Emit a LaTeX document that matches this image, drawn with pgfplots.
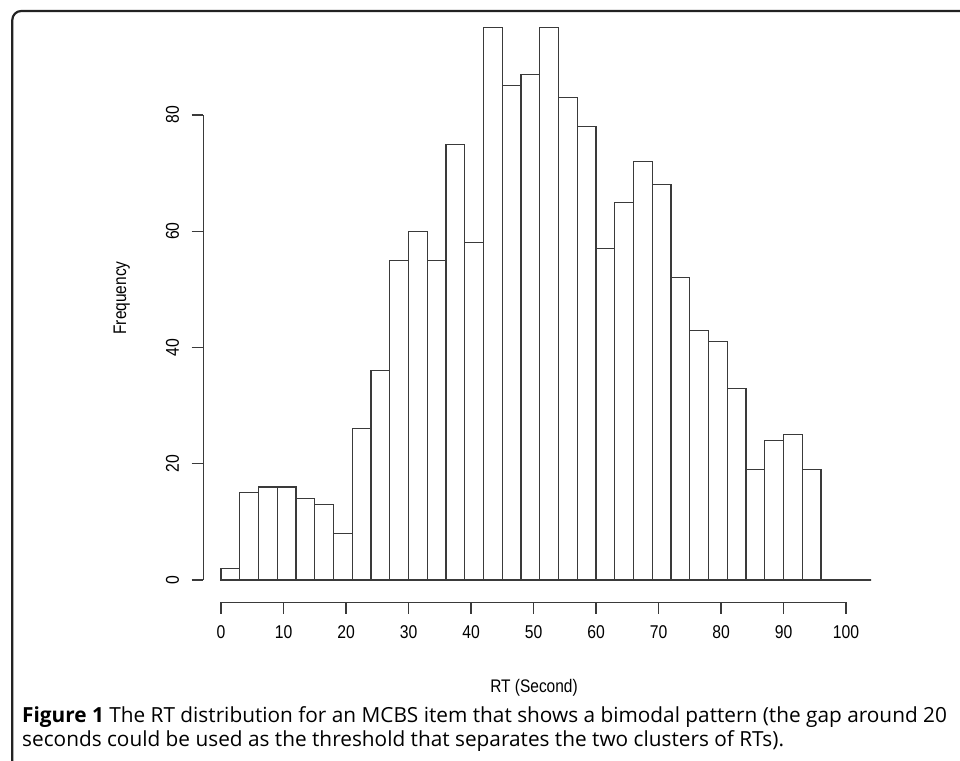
\documentclass[border=0pt]{standalone}
\usepackage{pgfplots}
\pgfplotsset{compat=1.18}
\usepackage{fontspec}
\setmainfont{Liberation Sans}[FakeStretch=0.85]
\newfontfamily\capfont{Open Sans}
\definecolor{barline}{HTML}{3A3A3A}
\definecolor{framec}{HTML}{222222}
\begin{document}
\begin{tikzpicture}[x=1bp,y=1bp]
\useasboundingbox (0,0) rectangle (960,761);
% frame
\draw[framec, line width=2.2bp, rounded corners=9bp] (12.3,0) -- (12.3,750) -- (960,750);
\begin{axis}[
  scale only axis,
  width=625bp, height=465bp,
  at={(221bp,181bp)}, anchor=south west,
  xmin=0, xmax=100, ymin=0, ymax=80,
  clip=false,
  axis x line*=bottom, axis y line*=left,
  separate axis lines,
  axis x line shift=22.3bp,
  axis y line shift=17.7bp,
  x axis line style={-, barline, line width=1.1bp},
  y axis line style={-, barline, line width=1.1bp},
  xtick={0,10,...,100}, ytick={0,20,...,80},
  minor tick num=0,
  tick align=outside,
  major tick length=11.7bp,
  tick style={barline, line width=1.1bp},
  /pgf/number format/assume math mode=true,
  tick label style={font=\fontsize{18.5bp}{20bp}\selectfont},
  xticklabel style={yshift=-8bp},
  yticklabel style={rotate=90, anchor=south, yshift=9bp},
  xlabel={RT (Second)},
  ylabel={Frequency},
  label style={font=\fontsize{18.2bp}{20bp}\selectfont},
  xlabel style={at={(axis description cs:0.5008,-0.2323)}, anchor=center},
  ylabel style={at={(axis description cs:-0.1589,0.6065)}, anchor=center},
]
\addplot[ybar interval, fill=white, draw=barline, line width=1.1bp] coordinates {
(0,2) (3,15) (6,16) (9,16) (12,14) (15,13) (18,8) (21,26) (24,36) (27,55)
(30,60) (33,55) (36,75) (39,58) (42,95) (45,85) (48,87) (51,95) (54,83) (57,78)
(60,57) (63,65) (66,72) (69,68) (72,52) (75,43) (78,41) (81,33) (84,19) (87,24)
(90,25) (93,19) (96,0) (99,0) (102,0) (104,0)
};
\end{axis}
\node[anchor=base west, inner sep=0, font=\capfont\fontsize{20.8bp}{24bp}\selectfont] at (22,38) {\textbf{Figure 1} The RT distribution for an MCBS item that shows a bimodal pattern (the gap around 20};
\node[anchor=base west, inner sep=0, font=\capfont\fontsize{20.8bp}{24bp}\selectfont] at (22,14) {seconds could be used as the threshold that separates the two clusters of RTs).};
\end{tikzpicture}
\end{document}
